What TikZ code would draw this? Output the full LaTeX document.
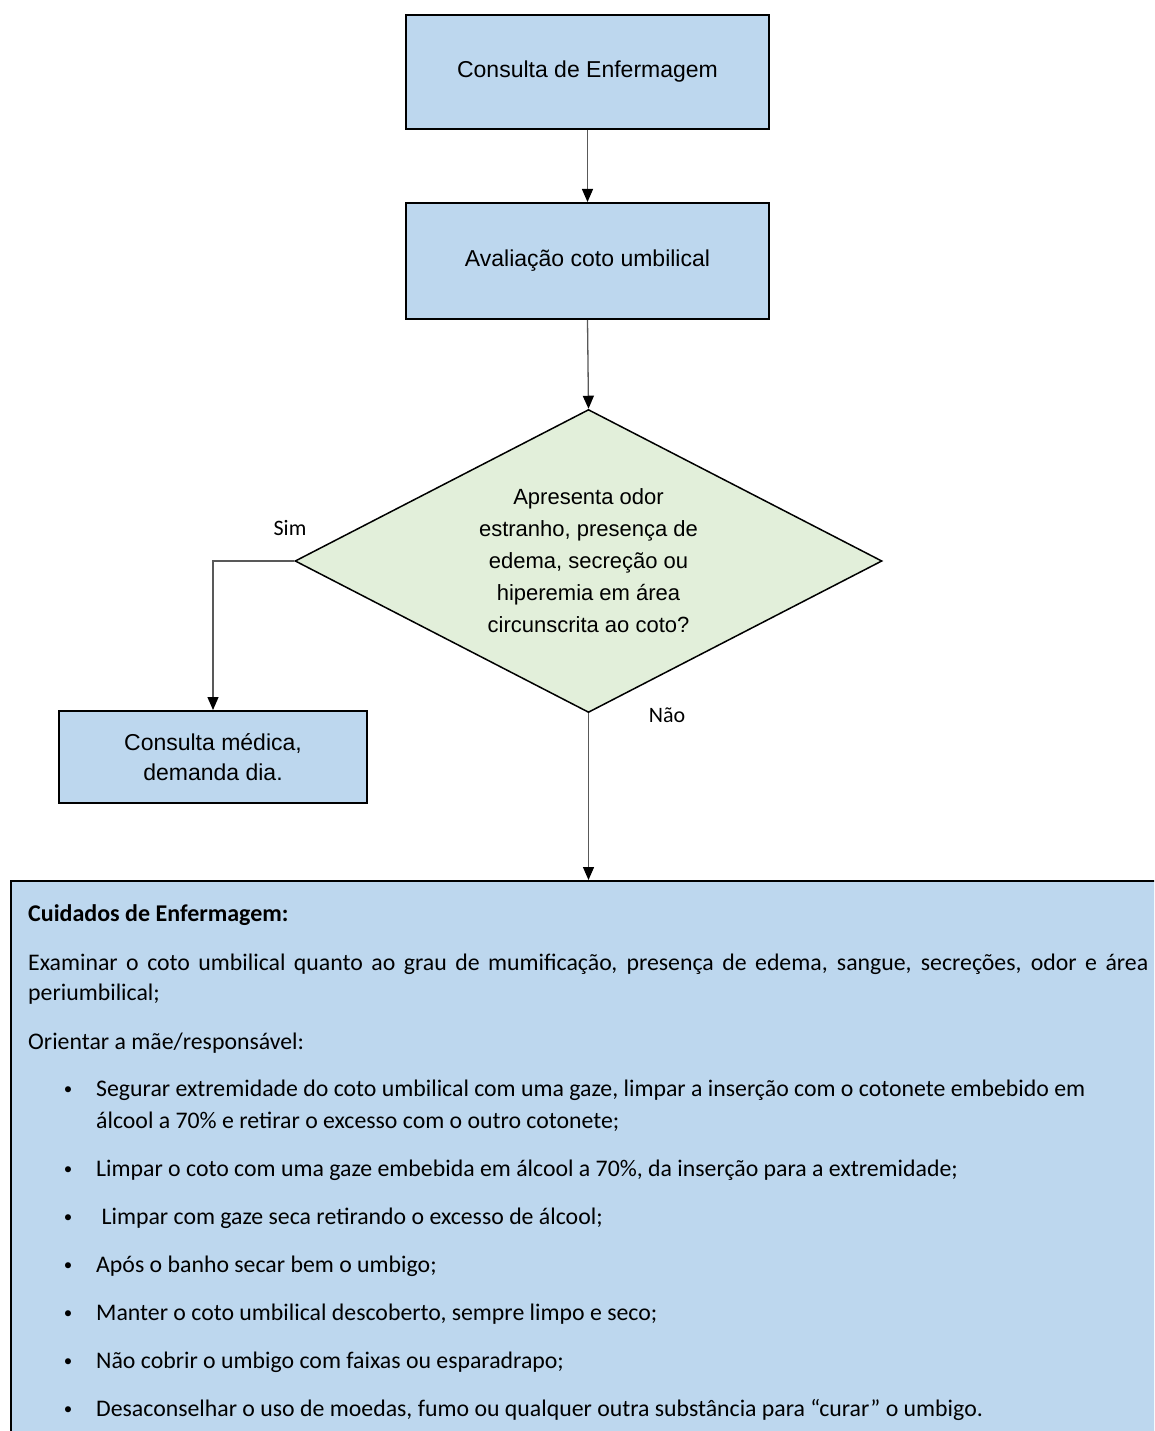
\documentclass[tikz,border=0pt]{standalone}
\usepackage{fontspec}
\setmainfont{Liberation Sans}
\newfontfamily\calfont{Carlito}
\usetikzlibrary{shapes.geometric,arrows.meta}
\definecolor{boxblue}{HTML}{BDD7EE}
\definecolor{boxgreen}{HTML}{E2EFDA}
\definecolor{linkgray}{HTML}{595959}
\begin{document}
\begin{tikzpicture}[x=1pt,y=-1pt,
  stepbox/.style={draw=black, line width=2pt, fill=boxblue, align=center, inner sep=0pt,
    font=\fontsize{23}{30}\selectfont},
  decision/.style={diamond, draw=black, line width=1.5pt, fill=boxgreen, inner sep=0pt,
    aspect=1.94, align=center, font=\fontsize{22}{32}\selectfont},
  link/.style={draw=linkgray, line width=1.3pt},
  arrowlink/.style={link, -{Triangle[length=13pt,width=11pt,color=black]}},
  tag/.style={font=\calfont\fontsize{22}{26}\selectfont, inner sep=0pt},
  body/.style={font=\calfont\fontsize{23.8}{30}\selectfont, anchor=base west, inner sep=0pt},
  bodybold/.style={body, font=\calfont\bfseries\fontsize{24}{30}\selectfont},
  dot/.style={font=\calfont\fontsize{17}{20}\selectfont, anchor=base, inner sep=0pt},
]
\clip (0,0) rectangle (1154,1431);
\fill[white] (0,0) rectangle (1154,1431);

% flow boxes
\node[stepbox, minimum width=363pt, minimum height=114pt] (consult) at (587.5,72) {\raisebox{-2pt}{Consulta de Enfermagem}};
\node[stepbox, minimum width=363pt, minimum height=116pt] (assess) at (587.5,261) {\raisebox{-2pt}{Avaliação coto umbilical}};
\node[decision, minimum width=587pt, minimum height=303pt] (check) at (588.5,561)
  {Apresenta odor\\estranho, presença de\\edema, secreção ou\\hiperemia em área\\circunscrita ao coto?};
\node[stepbox, minimum width=308pt, minimum height=92pt] (doctor) at (213,757)
  {Consulta médica,\\demanda dia.};

% care panel (runs past the right and bottom edges)
\node[draw=black, line width=2pt, fill=boxblue, minimum width=1180pt, minimum height=600pt,
  anchor=north west, inner sep=0pt] (care) at (10,880) {};

% connectors
\draw[arrowlink] (consult.south) -- (assess.north);
\draw[arrowlink] (assess.south) -- (check.north);
\draw[arrowlink] (check.west) -| (doctor.north);
\draw[arrowlink] (check.south) -- (check.south |- care.north);

% branch labels
\node[tag] (yes) at (290,528) {Sim};
\node[tag] (no) at (667,715) {Não};

% care text
\node[bodybold] (title) at (28,921) {Cuidados de Enfermagem:};
\node[body] (exam1) at (28,970) {\makebox[1120pt][s]{Examinar o coto umbilical quanto ao grau de mumificação, presença de edema, sangue, secreções, odor e área}};
\node[body] (exam2) at (28,1000) {periumbilical;};
\node[body] (guide) at (28,1049) {Orientar a mãe/responsável:};

\foreach \y/\name in {1096/b1,1176/b2,1224/b3,1272/b4,1320/b5,1368/b6,1416/b7}
  \node[dot] (\name) at (68,\y-2) {•};

\node[body] (i1a) at (96,1096) {Segurar extremidade do coto umbilical com uma gaze, limpar a inserção com o cotonete embebido em};
\node[body] (i1b) at (96,1128) {álcool a 70\% e retirar o excesso com o outro cotonete;};
\node[body] (i2) at (96,1176) {Limpar o coto com uma gaze embebida em álcool a 70\%, da inserção para a extremidade;};
\node[body] (i3) at (96,1224) {\ Limpar com gaze seca retirando o excesso de álcool;};
\node[body] (i4) at (96,1272) {Após o banho secar bem o umbigo;};
\node[body] (i5) at (96,1320) {Manter o coto umbilical descoberto, sempre limpo e seco;};
\node[body] (i6) at (96,1368) {Não cobrir o umbigo com faixas ou esparadrapo;};
\node[body] (i7) at (96,1416) {Desaconselhar o uso de moedas, fumo ou qualquer outra substância para “curar” o umbigo.};
\end{tikzpicture}
\end{document}
